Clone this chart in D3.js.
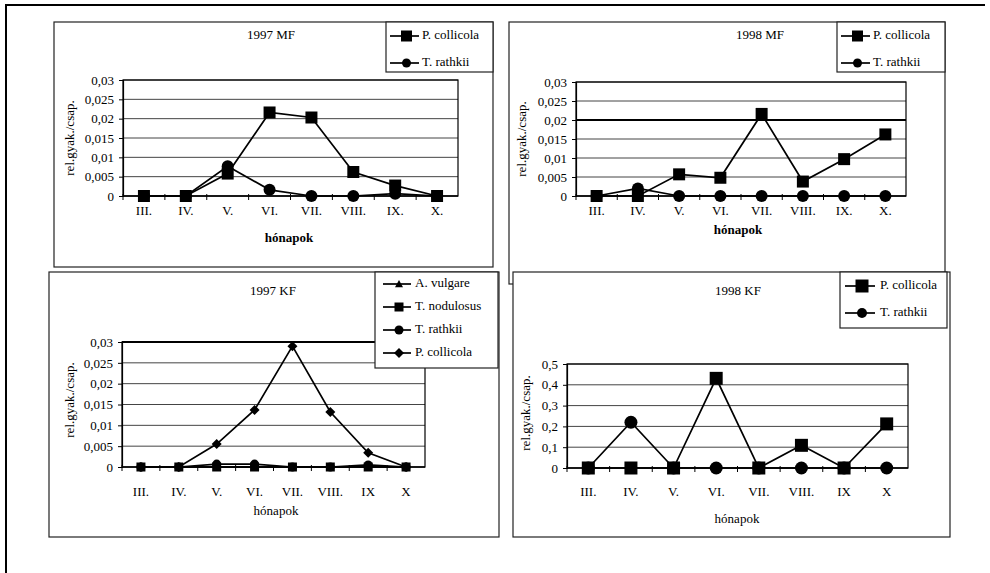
<!DOCTYPE html>
<html>
<head>
<meta charset="utf-8">
<script src="https://cdn.jsdelivr.net/npm/d3@7"></script>
<style>
  html, body { margin: 0; padding: 0; background: #fff; }
  svg text { font-family: "Liberation Serif", "Times New Roman", serif; fill: #000; }
</style>
</head>
<body>
<svg id="chart" width="990" height="573"></svg>
<script>
// Month labels (x categories) per panel
const monthsMF97 = ["III.", "IV.", "V.", "VI.", "VII.", "VIII.", "IX.", "X."];
const monthsMF98 = ["III.", "IV.", "V.", "VI.", "VII.", "VIII.", "IX.", "X."];
const monthsKF97 = ["III.", "IV.", "V.", "VI.", "VII.", "VIII.", "IX", "X"];
const monthsKF98 = ["III.", "IV.", "V.", "VI.", "VII.", "VIII.", "IX", "X"];

// Y tick values
const ticksSmall = [0, 0.005, 0.01, 0.015, 0.02, 0.025, 0.03];
const ticksLarge = [0, 0.1, 0.2, 0.3, 0.4, 0.5];

// 1997 MF
const mf97Collicola = [0, 0, 0.0058, 0.0216, 0.0203, 0.0062, 0.0027, 0];
const mf97Rathkii   = [0, 0, 0.0077, 0.0016, 0, 0, 0.0006, 0];

// 1998 MF
const mf98Collicola = [0, 0, 0.0057, 0.0048, 0.0216, 0.0038, 0.0097, 0.0162];
const mf98Rathkii   = [0, 0.002, 0, 0, 0, 0, 0, 0];

// 1997 KF
const kf97Vulgare   = [0, 0, 0, 0, 0, 0, 0, 0];
const kf97Nodulosus = [0, 0, 0, 0, 0, 0, 0, 0];
const kf97Rathkii   = [0, 0, 0.0007, 0.0007, 0, 0, 0.0005, 0];
const kf97Collicola = [0, 0, 0.0055, 0.0137, 0.029, 0.0132, 0.0034, 0];

// 1998 KF
const kf98Collicola = [0, 0, 0, 0.431, 0, 0.109, 0, 0.212];
const kf98Rathkii   = [0, 0.22, 0, 0, 0, 0, 0, 0];

const svg = d3.select("#chart");
const comma = d3.formatLocale({decimal: ",", thousands: " ", grouping: [3], currency: ["", ""]}).format("~g");

// outer frame (top and left edges)
svg.append("path").attr("d", "M6,573 L6,5 L985,5")
  .attr("fill", "none").attr("stroke", "#000").attr("stroke-width", 2);

function markerPath(shape, size) {
  const h = size / 2;
  if (shape === "square") return `M${-h},${-h}h${size}v${size}h${-size}z`;
  if (shape === "circle") return d3.symbol(d3.symbolCircle, Math.PI * h * h)();
  if (shape === "diamond") return `M0,${-h}L${h},0L0,${h}L${-h},0z`;
  if (shape === "triangle") return `M0,${-h}L${h},${h * 0.8}L${-h},${h * 0.8}z`;
}

function drawPanel(p) {
  const g = svg.append("g");
  // chart box
  g.append("rect").attr("x", p.box[0]).attr("y", p.box[1])
    .attr("width", p.box[2] - p.box[0]).attr("height", p.box[3] - p.box[1])
    .attr("fill", "#fff").attr("stroke", "#222").attr("stroke-width", 1.2);

  const x = d3.scaleBand().domain(p.cats).range([p.plot[0], p.plot[2]]);
  const y = d3.scaleLinear().domain([0, p.ymax]).range([p.plot[3], p.plot[1]]);

  // gridlines
  g.append("g").selectAll("line").data(p.ticks.slice(1)).join("line")
    .attr("x1", p.plot[0]).attr("x2", p.plot[2])
    .attr("y1", d => y(d)).attr("y2", d => y(d))
    .attr("stroke", d => p.strongGrid && p.strongGrid.includes(d) ? "#000" : "#444")
    .attr("stroke-width", d => p.strongGrid && p.strongGrid.includes(d) ? 1.8 : 1);

  // plot frame
  g.append("rect").attr("x", p.plot[0]).attr("y", p.plot[1])
    .attr("width", p.plot[2] - p.plot[0]).attr("height", p.plot[3] - p.plot[1])
    .attr("fill", "none").attr("stroke", "#000").attr("stroke-width", 1.2);

  // y axis
  const ya = g.append("g").attr("transform", `translate(${p.plot[0]},0)`)
    .call(d3.axisLeft(y).tickValues(p.ticks).tickFormat(comma).tickSizeOuter(0).tickSize(4).tickPadding(5));
  ya.select(".domain").attr("stroke", "#000").attr("stroke-width", 1.2);
  ya.selectAll("text").attr("font-size", 13).style("font-family", '"Liberation Serif", serif');

  // x axis (ticks at category boundaries)
  const xa = g.append("g").attr("transform", `translate(0,${p.plot[3]})`);
  xa.append("line").attr("x1", p.plot[0]).attr("x2", p.plot[2]).attr("stroke", "#000").attr("stroke-width", 1.5);
  xa.selectAll("line.tk").data(p.cats).join("line").attr("class", "tk")
    .attr("x1", d => x(d)).attr("x2", d => x(d)).attr("y1", -2).attr("y2", 4)
    .attr("stroke", "#000");
  xa.selectAll("text").data(p.cats).join("text")
    .attr("x", d => x(d) + x.bandwidth() / 2).attr("y", p.xTickY - p.plot[3])
    .attr("text-anchor", "middle").attr("font-size", 13).text(d => d);

  // titles
  g.append("text").attr("x", p.title[0]).attr("y", p.title[1]).attr("text-anchor", "middle")
    .attr("dominant-baseline", "middle").attr("font-size", 13).text(p.title[2]);
  g.append("text").attr("x", p.xlab[0]).attr("y", p.xlab[1]).attr("text-anchor", "middle")
    .attr("dominant-baseline", "middle").attr("font-size", 13)
    .attr("font-weight", p.xlabBold ? "bold" : "normal").text("hónapok");
  g.append("text").attr("transform", `translate(${p.ylab[0]},${p.ylab[1]}) rotate(-90)`)
    .attr("text-anchor", "middle").attr("dominant-baseline", "middle").attr("font-size", 13)
    .text("rel.gyak./csap.");

  // series
  const line = d3.line().x((d, i) => x(p.cats[i]) + x.bandwidth() / 2).y(d => y(d));
  p.series.forEach(s => {
    g.append("path").datum(s.values).attr("d", line)
      .attr("fill", "none").attr("stroke", "#000").attr("stroke-width", 1.7);
    g.append("g").selectAll("path").data(s.values).join("path")
      .attr("transform", (d, i) => `translate(${x(p.cats[i]) + x.bandwidth() / 2},${y(d)})`)
      .attr("d", markerPath(s.shape, s.size)).attr("fill", "#000");
  });

  // legend
  const L = p.legend;
  g.append("rect").attr("x", L.box[0]).attr("y", L.box[1])
    .attr("width", L.box[2] - L.box[0]).attr("height", L.box[3] - L.box[1])
    .attr("fill", "#fff").attr("stroke", "#222").attr("stroke-width", 1.2);
  L.items.forEach((it, i) => {
    const s = p.series.find(d => d.name === it);
    const yy = L.rows[i];
    g.append("line").attr("x1", L.lx[0]).attr("x2", L.lx[1]).attr("y1", yy).attr("y2", yy)
      .attr("stroke", "#000").attr("stroke-width", 1.7);
    g.append("path").attr("transform", `translate(${(L.lx[0] + L.lx[1]) / 2 + 2},${yy})`)
      .attr("d", markerPath(s.shape, s.legendSize || s.size)).attr("fill", "#000");
    g.append("text").attr("x", L.tx).attr("y", yy).attr("dominant-baseline", "middle")
      .attr("font-size", 13).text(it);
  });
}

drawPanel({
  box: [54, 22, 493, 267], plot: [123, 80, 458, 196], cats: monthsMF97,
  ymax: 0.03, ticks: ticksSmall, xTickY: 215,
  title: [271, 36, "1997 MF"], xlab: [289, 239], xlabBold: true, ylab: [71, 138],
  series: [
    {name: "P. collicola", values: mf97Collicola, shape: "square", size: 12, legendSize: 11},
    {name: "T. rathkii", values: mf97Rathkii, shape: "circle", size: 12, legendSize: 9}
  ],
  legend: {box: [386, 22, 493, 72], rows: [36, 63], lx: [390, 419], tx: 422,
           items: ["P. collicola", "T. rathkii"]}
});

drawPanel({
  box: [509, 22, 945, 284], plot: [576, 82, 906, 196], cats: monthsMF98,
  ymax: 0.03, ticks: ticksSmall, strongGrid: [0.02], xTickY: 215,
  title: [760, 36, "1998 MF"], xlab: [738, 231], xlabBold: true, ylab: [523, 139],
  series: [
    {name: "P. collicola", values: mf98Collicola, shape: "square", size: 12, legendSize: 11},
    {name: "T. rathkii", values: mf98Rathkii, shape: "circle", size: 12, legendSize: 9}
  ],
  legend: {box: [837, 22, 945, 72], rows: [36, 63], lx: [841, 870], tx: 873,
           items: ["P. collicola", "T. rathkii"]}
});

drawPanel({
  box: [49, 272, 499, 537], plot: [122, 342, 425, 467], cats: monthsKF97,
  ymax: 0.03, ticks: ticksSmall, strongGrid: [0.03], xTickY: 496,
  title: [273, 292, "1997 KF"], xlab: [276, 512], xlabBold: false, ylab: [71, 400],
  series: [
    {name: "A. vulgare", values: kf97Vulgare, shape: "triangle", size: 8},
    {name: "T. nodulosus", values: kf97Nodulosus, shape: "square", size: 9},
    {name: "T. rathkii", values: kf97Rathkii, shape: "circle", size: 9},
    {name: "P. collicola", values: kf97Collicola, shape: "diamond", size: 10}
  ],
  legend: {box: [375, 272, 498, 368], rows: [284, 307, 330, 353], lx: [383, 411], tx: 415,
           items: ["A. vulgare", "T. nodulosus", "T. rathkii", "P. collicola"]}
});

drawPanel({
  box: [513, 272, 950, 537], plot: [567, 364, 908, 468], cats: monthsKF98,
  ymax: 0.5, ticks: ticksLarge, xTickY: 496,
  title: [738, 292, "1998 KF"], xlab: [737, 520], xlabBold: false, ylab: [527, 413],
  series: [
    {name: "P. collicola", values: kf98Collicola, shape: "square", size: 13},
    {name: "T. rathkii", values: kf98Rathkii, shape: "circle", size: 13, legendSize: 10}
  ],
  legend: {box: [840, 272, 947, 328], rows: [286, 313], lx: [845, 875], tx: 880,
           items: ["P. collicola", "T. rathkii"]}
});
</script>
</body>
</html>
